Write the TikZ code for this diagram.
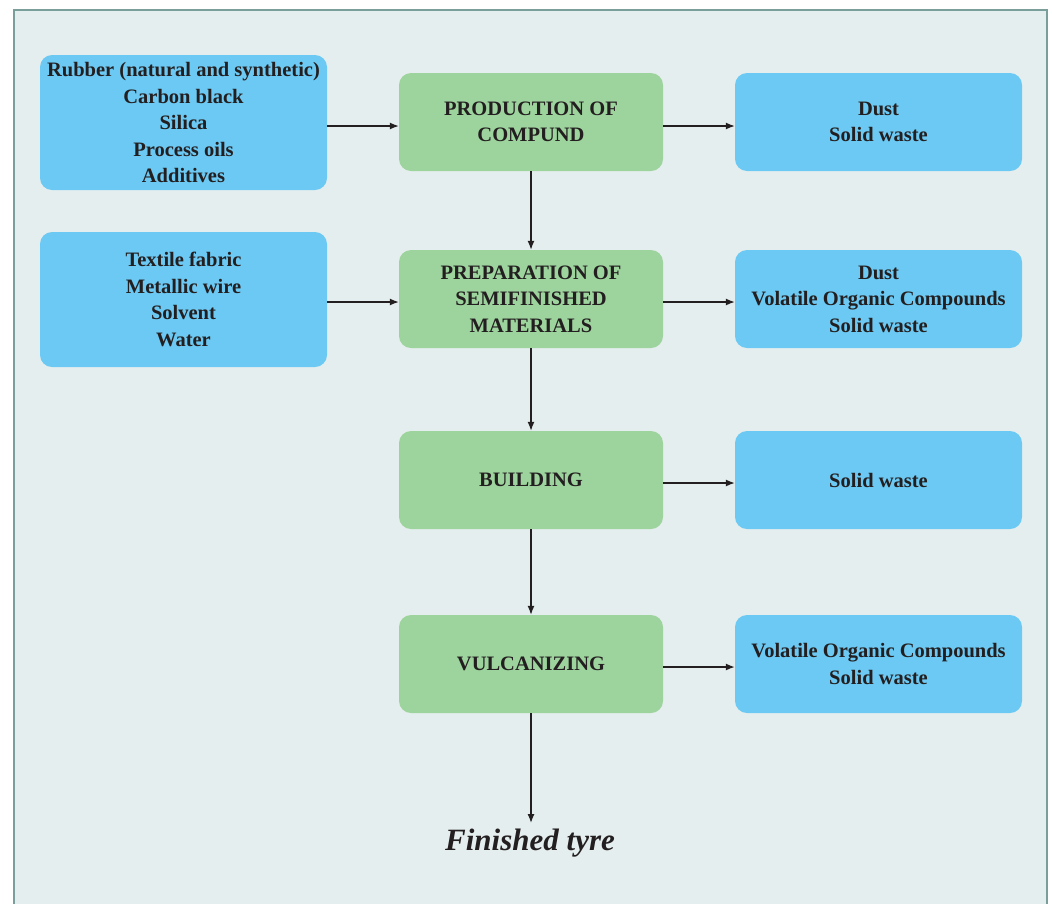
\documentclass[tikz,border=0pt]{standalone}
\usepackage{fontspec}
\setmainfont{Liberation Serif}
\usetikzlibrary{arrows.meta}
\definecolor{framecol}{HTML}{7A9E9A}
\definecolor{bgcol}{HTML}{E5EEEE}
\definecolor{bluebox}{HTML}{6CC9F3}
\definecolor{greenbox}{HTML}{9DD39D}
\definecolor{txt}{HTML}{231F20}
\tikzset{
  box/.style={rounded corners=12pt, inner sep=0pt, align=center, text=txt,
    font=\fontsize{20.5}{26.5}\selectfont\bfseries},
  inbox/.style={box, fill=bluebox, minimum width=287pt, minimum height=135pt},
  outbox/.style={box, fill=bluebox, minimum width=287pt, minimum height=98pt},
  procbox/.style={box, fill=greenbox, minimum width=264pt, minimum height=98pt},
  conn/.style={-{Latex[length=9pt,width=7pt]}, line width=1.3pt, draw=txt},
}
\begin{document}
\begin{tikzpicture}[x=1pt,y=-1pt]
\useasboundingbox (0,0) rectangle (1052,903);
\fill[white] (0,0) rectangle (1052,903);
\fill[bgcol] (14,10) rectangle (1047,910);
\draw[framecol, line width=2.5pt] (14,910) -- (14,10) -- (1047,10) -- (1047,910);

\node[inbox] (in1) at (183.5,122.5) {Rubber (natural and synthetic)\\Carbon black\\Silica\\Process oils\\Additives};
\node[inbox] (in2) at (183.5,299.5) {Textile fabric\\Metallic wire\\Solvent\\Water};

\node[procbox] (p1) at (531,122) {PRODUCTION OF\\COMPUND};
\node[procbox] (p2) at (531,299) {PREPARATION OF\\SEMIFINISHED\\MATERIALS};
\node[procbox] (p3) at (531,480) {BUILDING};
\node[procbox] (p4) at (531,664) {VULCANIZING};

\node[outbox] (o1) at (878.5,122) {Dust\\Solid waste};
\node[outbox] (o2) at (878.5,299) {Dust\\Volatile Organic Compounds\\Solid waste};
\node[outbox] (o3) at (878.5,480) {Solid waste};
\node[outbox] (o4) at (878.5,664) {Volatile Organic Compounds\\Solid waste};

\node[text=txt, font=\fontsize{31}{34}\selectfont\bfseries\itshape] (fin) at (530,843) {Finished tyre};
\coordinate (finend) at (531,823);

\draw[conn] (in1.east |- 0,126) -- (p1.west |- 0,126);
\draw[conn] (p1.east |- 0,126) -- (o1.west |- 0,126);
\draw[conn] (in2.east |- 0,302) -- (p2.west |- 0,302);
\draw[conn] (p2.east |- 0,302) -- (o2.west |- 0,302);
\draw[conn] (p3.east |- 0,483) -- (o3.west |- 0,483);
\draw[conn] (p4.east |- 0,667) -- (o4.west |- 0,667);
\draw[conn] (p1) -- (p2);
\draw[conn] (p2) -- (p3);
\draw[conn] (p3) -- (p4);
\draw[conn] (p4.south) -- (finend);
\end{tikzpicture}
\end{document}
